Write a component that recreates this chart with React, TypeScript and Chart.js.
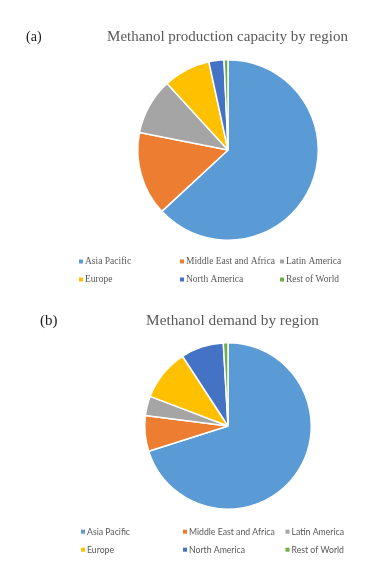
import React, { useEffect, useRef } from "react";
import { Chart, registerables } from "chart.js";

Chart.register(...registerables);

// ---- data ----
const regions = [
  "Asia Pacific",
  "Middle East and Africa",
  "Latin America",
  "Europe",
  "North America",
  "Rest of World",
];
const capacityShares = [63.1, 15.0, 10.1, 8.4, 2.7, 0.7];
const demandShares = [70.1, 6.9, 3.8, 10.0, 8.3, 0.9];
const regionColors = ["#5B9BD5", "#ED7D31", "#A5A5A5", "#FFC000", "#4472C4", "#70AD47"];
const panelLabels = ["(a)", "(b)"];
const panelTitles = ["Methanol production capacity by region", "Methanol demand by region"];

const decorPlugin = {
  id: "decor",
  afterDraw(chart: any, _args: any, opts: any) {
    const ctx = chart.ctx as CanvasRenderingContext2D;
    ctx.save();
    ctx.textBaseline = "middle";
    // panel label
    ctx.fillStyle = "#1a1a1a";
    ctx.textAlign = "left";
    ctx.font = `${opts.labelSize}px "Liberation Serif", "Times New Roman", serif`;
    ctx.fillText(opts.label, opts.labelX, opts.titleY);
    // title
    ctx.fillStyle = "#595959";
    ctx.textAlign = "center";
    ctx.font = `${opts.titleSize}px "Liberation Serif", "Times New Roman", serif`;
    ctx.fillText(opts.title, opts.titleX, opts.titleY);
    // legend
    const labels: string[] = chart.data.labels;
    const colors: string[] = chart.data.datasets[0].backgroundColor;
    ctx.textAlign = "left";
    labels.forEach((lab, i) => {
      const col = i % 3;
      const row = Math.floor(i / 3);
      const x = opts.colX[col];
      const y = opts.rowY[row];
      ctx.fillStyle = colors[i];
      ctx.fillRect(x, y - 2, 4, 4);
      ctx.fillStyle = "#595959";
      ctx.font = opts.legendFont;
      ctx.fillText(lab, x + opts.textGap, y);
    });
    ctx.restore();
  },
};

function PiePanel(props: {
  values: number[];
  width: number;
  height: number;
  padding: { left: number; right: number; top: number; bottom: number };
  decor: any;
}) {
  const ref = useRef<HTMLCanvasElement>(null);
  useEffect(() => {
    if (!ref.current) return;
    const chart = new Chart(ref.current, {
      type: "pie",
      data: {
        labels: regions,
        datasets: [
          {
            data: props.values,
            backgroundColor: regionColors,
            borderColor: "#ffffff",
            borderWidth: 1.5,
          },
        ],
      },
      options: {
        responsive: false,
        animation: false,
        devicePixelRatio: 1,
        layout: { padding: props.padding },
        plugins: {
          legend: { display: false },
          title: { display: false },
          tooltip: { enabled: false },
          decor: props.decor,
        } as any,
      },
      plugins: [decorPlugin],
    });
    return () => chart.destroy();
  }, []);
  return (
    <canvas
      ref={ref}
      width={props.width}
      height={props.height}
      style={{ display: "block", width: props.width, height: props.height }}
    />
  );
}

export default function App() {
  return (
    <div
      style={{
        position: "fixed",
        left: 0,
        top: 0,
        width: 372,
        height: 569,
        background: "#ffffff",
      }}
    >
      <PiePanel
        values={capacityShares}
        width={372}
        height={284}
        padding={{ left: 137, right: 53, top: 59, bottom: 43 }}
        decor={{
          label: panelLabels[0],
          labelX: 26,
          labelSize: 14,
          title: panelTitles[0],
          titleSize: 15,
          titleX: 227.5,
          titleY: 37,
          colX: [79, 180, 280],
          rowY: [261.5, 279.5],
          textGap: 6,
          legendFont: `9.5px "Liberation Serif", "Times New Roman", serif`,
        }}
      />
      <PiePanel
        values={demandShares}
        width={372}
        height={285}
        padding={{ left: 144, right: 60, top: 58, bottom: 59 }}
        decor={{
          label: panelLabels[1],
          labelX: 40,
          labelSize: 15,
          title: panelTitles[1],
          titleSize: 15.3,
          titleX: 232.5,
          titleY: 36.7,
          colX: [81, 183, 285.5],
          rowY: [247.7, 265.7],
          textGap: 6,
          legendFont: `8.7px Lato, "Liberation Sans", sans-serif`,
        }}
      />
    </div>
  );
}
